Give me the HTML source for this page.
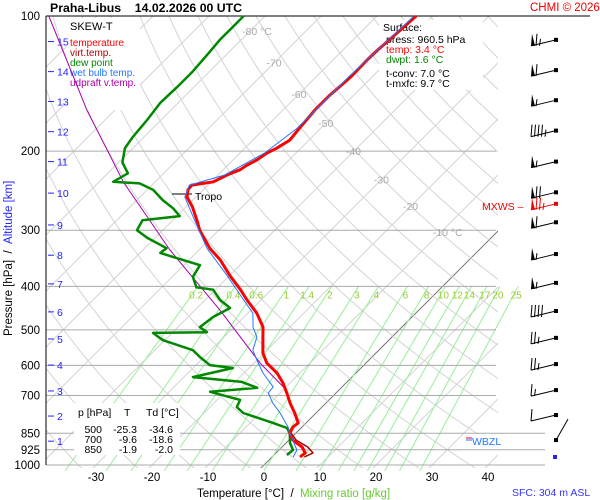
<!DOCTYPE html>
<html><head><meta charset="utf-8"><style>
html,body{margin:0;padding:0;background:#fff;}
svg{display:block;font-family:"Liberation Sans",Arial,sans-serif;}
</style></head><body>
<svg id="c" width="600" height="500" viewBox="0 0 600 500" xmlns="http://www.w3.org/2000/svg">
<defs><clipPath id="pc"><rect x="46" y="16" width="452" height="452"/></clipPath>
<clipPath id="pc2"><rect x="46" y="16" width="500" height="460"/></clipPath></defs>
<g id="grid" clip-path="url(#pc)"></g>
<g id="mix" clip-path="url(#pc2)"></g>
<g id="hl"></g>
<g id="txt">
<text x="50" y="12" font-size="12.3" font-weight="bold">Praha-Libus&#160;&#160;&#160;&#160;14.02.2026 00 UTC</text>
<text x="530" y="11" font-size="11.5" fill="#e00">CHMI © 2026</text>
<rect x="66" y="18" width="74" height="92" fill="#fff"/>
<text x="70" y="30" font-size="11">SKEW-T</text>
<text x="70" y="46" font-size="10" fill="#f00">temperature</text>
<text x="70" y="56" font-size="10" fill="#a00">virt.temp.</text>
<text x="70" y="66" font-size="10" fill="#080">dew point</text>
<text x="70" y="76" font-size="10" fill="#27f">wet bulb temp.</text>
<text x="70" y="86" font-size="10" fill="#a0a">udpraft v.temp.</text>
<rect x="379" y="20" width="104" height="70" fill="#fff"/>
<text x="383" y="31" font-size="10.5">Surface:</text>
<text x="386" y="43" font-size="10.5">press: 960.5 hPa</text>
<text x="386" y="53" font-size="10.5" fill="#f00">temp: 3.4 °C</text>
<text x="386" y="63" font-size="10.5" fill="#080">dwpt: 1.6 °C</text>
<text x="386" y="77" font-size="10.5">t-conv: 7.0 °C</text>
<text x="386" y="87" font-size="10.5">t-mxfc: 9.7 °C</text>
<rect x="74" y="403" width="106" height="52" fill="#fff"/>
<g font-size="10.5">
<text x="78" y="416">p [hPa]</text><text x="124" y="416">T</text><text x="146" y="416">Td [°C]</text>
<text x="102" y="433" text-anchor="end">500</text><text x="137" y="433" text-anchor="end">-25.3</text><text x="173" y="433" text-anchor="end">-34.6</text>
<text x="102" y="443" text-anchor="end">700</text><text x="137" y="443" text-anchor="end">-9.6</text><text x="173" y="443" text-anchor="end">-18.6</text>
<text x="102" y="453" text-anchor="end">850</text><text x="137" y="453" text-anchor="end">-1.9</text><text x="173" y="453" text-anchor="end">-2.0</text>
</g>
<text transform="translate(12,336) rotate(-90)" font-size="11.5"><tspan fill="#000">Pressure [hPa]&#160;&#160;/&#160;&#160;</tspan><tspan fill="#22f">Altitude [km]</tspan></text>
<text x="197" y="497" font-size="11.5">Temperature [°C]&#160;&#160;/&#160;&#160;<tspan fill="#6c3">Mixing ratio [g/kg]</tspan></text>
<text x="512" y="496" font-size="10.5" fill="#33f">SFC: 304 m ASL</text>
<line x1="172" y1="194" x2="192" y2="194" stroke="#000"/>
<text x="195" y="200" font-size="10.5">Tropo</text>
<text x="482" y="210" font-size="10.5" fill="#e00">MXWS –</text>
<rect x="470" y="434" width="38" height="13" fill="#fff"/>
<line x1="466" y1="438" x2="472" y2="438" stroke="#f00"/>
<line x1="466" y1="440" x2="472" y2="440" stroke="#27f"/>
<text x="472" y="445" font-size="10.5" fill="#27f">WBZL</text>
</g>
<g id="series"></g>
<g id="wind"></g>
</svg>
<script>
const NS="http://www.w3.org/2000/svg";
// ---- data ----
const tempP=[100,119,125,137,150,162,178,189,197,202,209,215,220,226,234,238,244,253,266,285,300,329,349,378,407,429,459,493,527,563,593,624,656,691,728,766,806,823,849,880,912,940,960];
const tempT=[-53.0,-53.8,-53.9,-53.8,-54.3,-54.3,-53.8,-53.4,-54.3,-55.2,-55.7,-56.6,-57.0,-58.4,-59.6,-62.9,-62.7,-61.6,-58.9,-55.7,-53.4,-48.4,-44.5,-40.0,-35.5,-32.5,-28.4,-24.8,-22.5,-20.2,-17.7,-14.1,-11.3,-8.8,-6.4,-3.8,-1.4,-1.6,-1.1,0.7,3.6,5.2,5.0];
const dewP=[100,106,113,122,133,144,156,170,186,197,212,224,234,236,244,257,268,279,285,300,312,329,337,344,359,381,402,407,429,447,468,493,506,508,527,555,575,599,608,637,653,673,687,716,743,766,806,827,849,893,926,950];
const dewT=[-83.8,-83.8,-83.8,-83.4,-83.0,-83.0,-83.2,-82.5,-82.0,-81.4,-79.3,-76.4,-77.5,-72.5,-68.9,-65.4,-62.1,-59.5,-65.4,-64.6,-61.4,-56.1,-56.4,-53.4,-47.1,-46.3,-43.8,-40.4,-37.3,-34.1,-35.5,-36.1,-33.9,-43.4,-40.4,-33.2,-30.7,-27.5,-22.9,-28.4,-18.8,-15.0,-22.7,-15.9,-15.2,-13.0,-5.9,-2.5,-1.1,0.7,2.5,2.3];
const wetP=[100,137,178,202,226,238,253,285,329,378,429,459,493,519,555,584,624,670,691,728,766,823,849,926,960];
const wetT=[-53.4,-54.2,-54.2,-55.6,-58.8,-63.3,-62.0,-56.1,-48.9,-40.5,-33.1,-29.1,-26.6,-24.1,-22.5,-20.0,-16.6,-12.3,-12.1,-9.5,-6.4,-2.5,-1.1,3.2,3.8];
const virtP=[849,880,912,940,960];
const virtT=[-0.9,1.3,4.6,6.6,5.8];
const updP=[100,162,234,332,452,593,670];
const updT=[-118.6,-95.0,-75.7,-55.2,-35.5,-18.9,-10.5];
const isobars=[200,300,400,500,600,700,850,925,1000];
const xTicks=[-30,-20,-10,0,10,20,30,40];
const isoLabels=[-80,-70,-60,-50,-40,-30,-20,-10];
const mixRatios=[0.2,0.4,0.6,1,1.4,2,3,4,6,8,10,12,14,17,20,25];
const altKm=[15,14,13,12,11,10,9,8,7,6,5,4,3,2,1];
const altP=[114,133,155,181,211,248,292,341,395,456,524,599,684,778,885];
const windP=[113,132,154,180,211,247,262,288,339,393,454,521,596,681,774,880];
const windKt=[65,60,55,45,55,70,75,60,55,55,40,25,25,15,10,5];
// ---- axes ----
const Y=p=>16+449*Math.log10(p/100);
const X=(t,p)=>264+5.6*t+(465-Y(p));
function el(tag,attrs,parent){const e=document.createElementNS(NS,tag);for(const k in attrs)e.setAttribute(k,attrs[k]);parent.appendChild(e);return e;}
const gGrid=document.getElementById('grid'),gMix=document.getElementById('mix'),gHl=document.getElementById('hl'),gSer=document.getElementById('series'),gWind=document.getElementById('wind'),gTxt=document.getElementById('txt');
// isotherms
for(let t=-160;t<=60;t+=10){
 const l=el('line',{x1:X(t,1050),y1:Y(1050),x2:X(t,100),y2:Y(100),stroke:t===0?'#777':'#d4d4d4','stroke-width':1},gGrid);
 
 
}
// dry adiabats
for(let th=200;th<=500;th+=10){
 let d='';for(let p=1050;p>=100;p-=10){const t=th*Math.pow(p/1000,0.286)-273.15;d+=(d?'L':'M')+X(t,p).toFixed(1)+','+Y(p).toFixed(1);}
 const a=el('path',{d:d,fill:'none',stroke:'#d4d4d4','stroke-width':1},gGrid);
 
 
}
// mixing ratio
function tdFromW(w,p){const e=w*p/(622+w);const l=Math.log(e/6.112);return 243.5*l/(17.67-l);}
mixRatios.forEach(w=>{
 const m=el('line',{x1:X(tdFromW(w,1030),1030),y1:Y(1030),x2:X(tdFromW(w,400),400),y2:Y(400),stroke:'#9e9',"stroke-width":1},gMix);
 
 
 const tx=el('text',{x:X(tdFromW(w,400),400)-2,y:Y(400)+12,'font-size':10,fill:'#9c3','text-anchor':'middle'},gTxt);
 tx.textContent=String(w);
 
 
});
// isobars
isobars.forEach(p=>{
 const l=el('line',{x1:46,y1:Y(p),x2:p>=850?545:496,y2:Y(p),stroke:'#aaa','stroke-width':1},gHl);
 
 
});
['100'].concat(isobars.map(String)).forEach(s=>{
 const t=el('text',{x:40,y:Y(+s)+4,'font-size':11.5,'text-anchor':'end'},gTxt);t.textContent=s;
 
 
});
const topBorder=el('line',{x1:46,y1:16,x2:590,y2:16,stroke:'#000'},gHl);


const yAxisLine=el('line',{x1:46,y1:16,x2:46,y2:Y(1000),stroke:'#000'},gHl);


xTicks.forEach(t=>{const e=el('text',{x:X(t,1000),y:481,'font-size':11.5,'text-anchor':'middle'},gTxt);e.textContent=String(t);
 
 });
isoLabels.forEach((t,i)=>{const p=[108,127,149,173,200,231,265,303][i];const e=el('text',{x:X(t,p)-8,y:Y(p)+4,'font-size':10.5,fill:'#aaa'},gTxt);e.textContent=(i===0||i===7)?t+' °C':String(t);
 
 });
altKm.forEach((k,i)=>{const y=Y(altP[i]);
 const l=el('line',{x1:48,y1:y,x2:54,y2:y,stroke:'#22f'},gTxt);
 
 
 const e=el('text',{x:57,y:y+4,'font-size':10.5,fill:'#22f'},gTxt);e.textContent=String(k);
 
 });
// series
function line(P,T,color,w,name){let d='';P.forEach((p,i)=>{d+=(i?'L':'M')+X(T[i],p).toFixed(1)+','+Y(p).toFixed(1);});
 const e=el('path',{d:d,fill:'none',stroke:color,'stroke-width':w,'stroke-linejoin':'round'},gSer);
 
 }
line(updP,updT,'#a0a',1,'updraft-line');
line(dewP,dewT,'#080',2.5,'dewpoint-line');
line(virtP,virtT,'#a00',1.5,'virtual-temp-line');
line(tempP,tempT,'#f00',3,'temperature-line');
line(wetP,wetT,'#27f',1,'wetbulb-line');
// wind barbs
windP.forEach((p,i)=>{
 const y=Y(p),g=el('g',{},gWind);
 
 
 const c=(i===6)?'#e00':'#000';
 el('rect',{x:554,y:y-2,width:4,height:4,fill:c},g);
 if(i===windP.length-1){el('line',{x1:556,y1:y,x2:568,y2:y-21,stroke:c},g);return;}
 const lx=531,ly=y+6;
 el('line',{x1:556,y1:y,x2:lx,y2:ly,stroke:c},g);
 let s=windKt[i],x=lx;
 while(s>=50){el('polygon',{points:`${x},${ly} ${x+4},${ly} ${x+1},${ly-12}`,fill:c},g);x+=5;s-=50;}
 while(s>=10){el('line',{x1:x,y1:ly,x2:x+1,y2:ly-12,stroke:c},g);x+=3.5;s-=10;}
 if(s>=5){el('line',{x1:x,y1:ly,x2:x+1,y2:ly-7,stroke:c},g);}
});
const sfcDot=el('rect',{x:553,y:455,width:4,height:4,fill:'#22f'},gWind);


</script>
</body></html>
